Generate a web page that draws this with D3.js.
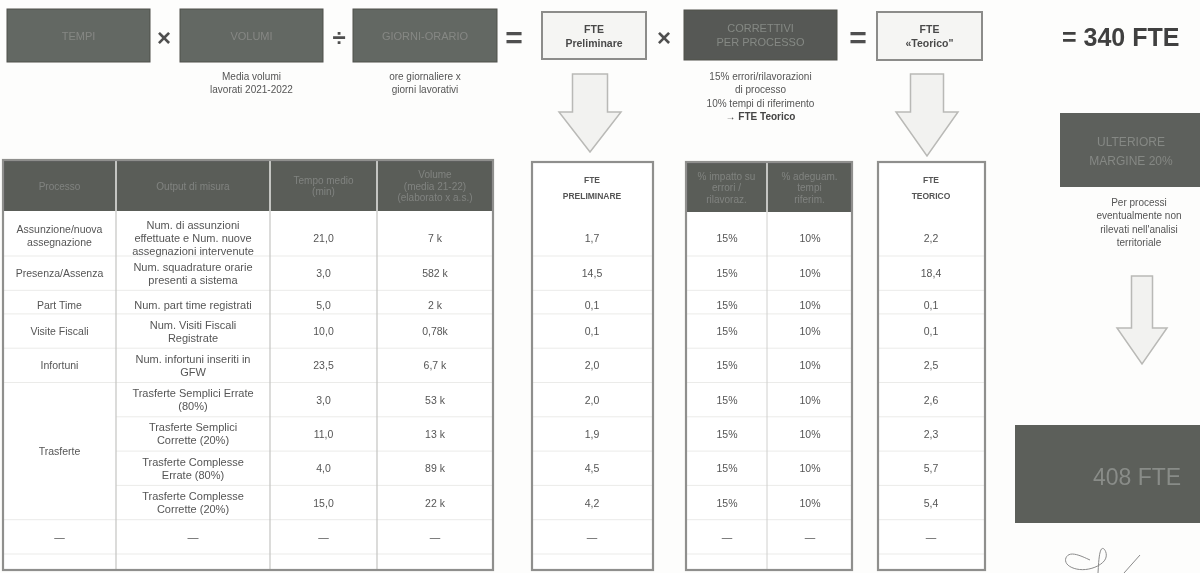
<!DOCTYPE html>
<html>
<head>
<meta charset="utf-8">
<script src="https://cdn.jsdelivr.net/npm/d3@7"></script>
<style>
body { margin: 0; background: #fff; }
svg { display: block; }
</style>
</head>
<body>
<svg id="chart" width="1200" height="573"></svg>
<script>
// ---- data ----
var formulaLabels = ["TEMPI", "VOLUMI", "GIORNI-ORARIO", "FTE\nPreliminare", "CORRETTIVI\nPER PROCESSO", "FTE\n«Teorico\""];
var formulaOps = ["×", "÷", "=", "×", "="];
var formulaNotes = ["", "Media volumi\nlavorati 2021-2022", "ore giornaliere x\ngiorni lavorativi", "", "15% errori/rilavorazioni\ndi processo\n10% tempi di riferimento\n→ FTE Teorico", ""];
var totaleFte = "= 340 FTE";
var margineLabel = "ULTERIORE\nMARGINE 20%";
var margineNote = "Per processi\neventualmente non\nrilevati nell'analisi\nterritoriale";
var totaleFinale = "408 FTE";

var headMain = ["Processo", "Output di misura", "Tempo medio\n(min)", "Volume\n(media 21-22)\n(elaborato x a.s.)"];
var headCorr = ["% impatto su\nerrori /\nrilavoraz.", "% adeguam.\ntempi\nriferim."];
var headPrelim = "FTE\nPRELIMINARE";
var headTeorico = "FTE\nTEORICO";

var processi = ["Assunzione/nuova\nassegnazione", "Presenza/Assenza", "Part Time", "Visite Fiscali", "Infortuni", "Trasferte", "—"];
var processiSpan = [1, 1, 1, 1, 1, 4, 1];
var outputMisura = [
    "Num. di assunzioni\neffettuate e Num. nuove\nassegnazioni intervenute",
    "Num. squadrature orarie\npresenti a sistema",
    "Num. part time registrati",
    "Num. Visiti Fiscali\nRegistrate",
    "Num. infortuni inseriti in\nGFW",
    "Trasferte Semplici Errate\n(80%)",
    "Trasferte Semplici\nCorrette (20%)",
    "Trasferte Complesse\nErrate (80%)",
    "Trasferte Complesse\nCorrette (20%)",
    "—"
];
var tempoMedio = ["21,0", "3,0", "5,0", "10,0", "23,5", "3,0", "11,0", "4,0", "15,0", "—"];
var volumi = ["7 k", "582 k", "2 k", "0,78k", "6,7 k", "53 k", "13 k", "89 k", "22 k", "—"];
var ftePreliminare = ["1,7", "14,5", "0,1", "0,1", "2,0", "2,0", "1,9", "4,5", "4,2", "—"];
var percErrori = ["15%", "15%", "15%", "15%", "15%", "15%", "15%", "15%", "15%", "—"];
var percTempi = ["10%", "10%", "10%", "10%", "10%", "10%", "10%", "10%", "10%", "—"];
var fteTeorico = ["2,2", "18,4", "0,1", "0,1", "2,5", "2,6", "2,3", "5,7", "5,4", "—"];

// ---- look ----
var DARK = "#646763", DARKER = "#565955", DTEXT = "#858884";
var INK = "#555555";
var ARIAL = "'Liberation Sans', Arial, sans-serif";
var NARROW = "'Liberation Sans', Arial, sans-serif";

var svg = d3.select("#chart");
svg.append("rect").attr("width", 1200).attr("height", 573).attr("fill", "#fdfdfc");

var defs = svg.append("defs");
defs.append("filter").attr("id", "scan")
    .append("feGaussianBlur").attr("stdDeviation", 0.5);

var g = svg.append("g").attr("filter", "url(#scan)");

// multi-line centered text helper
function mtext(sel, str, x, y, lh) {
    var lines = str.split("\n");
    var t = sel.append("text").attr("x", x).attr("y", y - (lines.length - 1) * lh / 2)
        .attr("text-anchor", "middle").attr("dominant-baseline", "central");
    lines.forEach(function(l, i) {
        t.append("tspan").attr("x", x).attr("dy", i === 0 ? 0 : lh).text(l);
    });
    return t;
}

// hollow block arrow pointing down
function arrow(cx, top, headY, tip, shaftW, headW) {
    var p = d3.path();
    p.moveTo(cx - shaftW / 2, top);
    p.lineTo(cx + shaftW / 2, top);
    p.lineTo(cx + shaftW / 2, headY);
    p.lineTo(cx + headW / 2, headY);
    p.lineTo(cx, tip);
    p.lineTo(cx - headW / 2, headY);
    p.lineTo(cx - shaftW / 2, headY);
    p.closePath();
    g.append("path").attr("d", p.toString())
        .attr("fill", "#f2f2f0").attr("stroke", "#b9b9b6").attr("stroke-width", 1.5);
}

// ---- formula row ----
var boxes = [
    {x: 7, y: 9, w: 143, h: 53, kind: "dark"},
    {x: 180, y: 9, w: 143, h: 53, kind: "dark"},
    {x: 353, y: 9, w: 144, h: 53, kind: "dark"},
    {x: 542, y: 12, w: 104, h: 47, kind: "light"},
    {x: 684, y: 10, w: 153, h: 50, kind: "darker"},
    {x: 877, y: 12, w: 105, h: 48, kind: "light"}
];
var opX = [164, 339, 514, 664, 858];

boxes.forEach(function(b, i) {
    var light = b.kind === "light";
    g.append("rect").attr("x", b.x).attr("y", b.y).attr("width", b.w).attr("height", b.h)
        .attr("fill", light ? "#f5f5f3" : (b.kind === "darker" ? DARKER : DARK))
        .attr("stroke", light ? "#8c8c8a" : "#4e514d").attr("stroke-width", light ? 2 : 1);
    mtext(g, formulaLabels[i], b.x + b.w / 2, b.y + b.h / 2, 14)
        .attr("font-family", ARIAL).attr("font-size", light ? 10.5 : 11)
        .attr("font-weight", light ? "bold" : "normal")
        .attr("fill", light ? "#4a4a4a" : DTEXT);
    if (formulaNotes[i]) {
        var n = formulaNotes[i].split("\n").length;
        mtext(g, formulaNotes[i], b.x + b.w / 2, 76 + (n - 1) * 13.3 / 2, 13.3)
            .attr("font-family", ARIAL).attr("font-size", 10).attr("fill", INK);
    }
});
// bold last line "→ FTE Teorico"
g.selectAll("tspan").filter(function() { return this.textContent === "→ FTE Teorico"; })
    .attr("font-weight", "bold").attr("fill", "#444");

formulaOps.forEach(function(op, i) {
    g.append("text").attr("x", opX[i]).attr("y", 37)
        .attr("text-anchor", "middle").attr("dominant-baseline", "central")
        .attr("font-family", ARIAL).attr("font-weight", "bold")
        .attr("font-size", op === "=" ? 30 : 24).attr("fill", "#4f4f4f").text(op);
});

g.append("text").attr("x", 1062).attr("y", 46).attr("font-family", ARIAL)
    .attr("font-weight", "bold").attr("font-size", 25).attr("fill", "#3f3f3f").text(totaleFte);

// arrows
arrow(590, 74, 112, 152, 35, 62);
arrow(927, 74, 112, 156, 33, 62);
arrow(1142, 276, 328, 364, 21, 50);

// ---- right column ----
g.append("rect").attr("x", 1060).attr("y", 113).attr("width", 150).attr("height", 74).attr("fill", "#5d605c");
mtext(g, margineLabel, 1131, 151, 19).attr("font-family", ARIAL).attr("font-size", 12).attr("fill", DTEXT);
mtext(g, margineNote, 1139, 222, 13.5).attr("font-family", ARIAL).attr("font-size", 10).attr("fill", INK);

g.append("rect").attr("x", 1015).attr("y", 425).attr("width", 195).attr("height", 98).attr("fill", "#5b5e5a");
g.append("text").attr("x", 1137).attr("y", 477).attr("text-anchor", "middle").attr("dominant-baseline", "central")
    .attr("font-family", ARIAL).attr("font-size", 23).attr("fill", "#898c88").text(totaleFinale);

// signature scribble
var sig = [[1090, 560], [1068, 550], [1062, 565], [1085, 573], [1112, 560], [1100, 540], [1098, 573]];
g.append("path").attr("d", d3.line().curve(d3.curveBasis)(sig))
    .attr("fill", "none").attr("stroke", "#8a8a8a").attr("stroke-width", 1);
g.append("path").attr("d", d3.line()([[1124, 573], [1140, 555]]))
    .attr("fill", "none").attr("stroke", "#8a8a8a").attr("stroke-width", 1);

// ---- tables ----
var headTop = 160, headBot = 211, rowsBot = 554, tableBot = 570;
var units = outputMisura.map(function(s) {
    return s === "—" ? 3.2 : s.split("\n").length + 1.2;
});
var cum = [0];
units.forEach(function(u, i) { cum.push(cum[i] + u); });
var y = d3.scaleLinear().domain([0, cum[cum.length - 1]]).range([headBot, rowsBot]);
var rowTop = function(i) { return y(cum[i]); };
var rowMid = function(i) { return (y(cum[i]) + y(cum[i + 1])) / 2; };

function rowLines(x0, x1, skip) {
    d3.range(1, outputMisura.length + 1).forEach(function(i) {
        if (skip && skip(i)) return;
        g.append("line").attr("x1", x0).attr("x2", x1).attr("y1", rowTop(i)).attr("y2", rowTop(i))
            .attr("stroke", "#ebebe9").attr("stroke-width", 1);
    });
}
function column(values, cx, size) {
    values.forEach(function(v, i) {
        mtext(g, v, cx, rowMid(i) + (i === 0 ? 4 : 0) + (i === 2 ? 3 : 0), 13)
            .attr("font-family", NARROW).attr("font-size", size || 10.5).attr("fill", INK);
    });
}
function frame(x0, x1, top) {
    g.append("rect").attr("x", x0).attr("y", top).attr("width", x1 - x0).attr("height", tableBot - top)
        .attr("fill", "none").attr("stroke", "#8f8f8d").attr("stroke-width", 2.2);
}
function darkHead(x0, x1, top, bot, cols, labels) {
    g.append("rect").attr("x", x0).attr("y", top).attr("width", x1 - x0).attr("height", bot - top)
        .attr("fill", "#5a5d59");
    cols.slice(1, -1).forEach(function(cx) {
        g.append("line").attr("x1", cx).attr("x2", cx).attr("y1", top).attr("y2", bot)
            .attr("stroke", "#e8e8e6").attr("stroke-width", 1.5);
    });
    labels.forEach(function(l, i) {
        mtext(g, l, (cols[i] + cols[i + 1]) / 2, (top + bot) / 2, 11.5)
            .attr("font-family", NARROW).attr("font-size", 10).attr("fill", "#80837f");
    });
}

// main table
var colsMain = [3, 116, 270, 377, 493];
g.append("rect").attr("x", 3).attr("y", headTop).attr("width", 490).attr("height", tableBot - headTop).attr("fill", "#fff");
var transStart = processiSpan.slice(0, 5).reduce(function(a, b) { return a + b; }, 0);
rowLines(colsMain[0], colsMain[1], function(i) { return i > transStart && i < transStart + 4; });
rowLines(colsMain[1], colsMain[4]);
colsMain.slice(1, -1).forEach(function(cx) {
    g.append("line").attr("x1", cx).attr("x2", cx).attr("y1", headBot).attr("y2", tableBot)
        .attr("stroke", "#c4c4c2").attr("stroke-width", 1.2);
});
darkHead(3, 493, headTop, headBot, colsMain, headMain);

var r = 0;
processi.forEach(function(p, i) {
    var mid = (rowTop(r) + rowTop(r + processiSpan[i])) / 2;
    mtext(g, p, (colsMain[0] + colsMain[1]) / 2, mid + (r === 0 ? 2 : 0) + (r === 2 ? 3 : 0), 13)
        .attr("font-family", NARROW).attr("font-size", 10.5).attr("fill", INK);
    r += processiSpan[i];
});
column(outputMisura, (colsMain[1] + colsMain[2]) / 2, 11);
column(tempoMedio, (colsMain[2] + colsMain[3]) / 2);
column(volumi, (colsMain[3] + colsMain[4]) / 2);
frame(3, 493, headTop);

// FTE preliminare
g.append("rect").attr("x", 532).attr("y", 162).attr("width", 121).attr("height", tableBot - 162).attr("fill", "#fff");
rowLines(532, 653);
mtext(g, headPrelim, 592, 188, 16).attr("font-family", NARROW).attr("font-size", 8.5).attr("font-weight", "bold").attr("fill", INK);
column(ftePreliminare, 592);
frame(532, 653, 162);

// correttivi
var colsCorr = [686, 767, 852];
g.append("rect").attr("x", 686).attr("y", 162).attr("width", 166).attr("height", tableBot - 162).attr("fill", "#fff");
rowLines(686, 852);
g.append("line").attr("x1", 767).attr("x2", 767).attr("y1", 212).attr("y2", tableBot)
    .attr("stroke", "#d0d0ce").attr("stroke-width", 1);
darkHead(686, 852, 162, 212, colsCorr, headCorr);
column(percErrori, 727);
column(percTempi, 810);
frame(686, 852, 162);

// FTE teorico
g.append("rect").attr("x", 878).attr("y", 162).attr("width", 107).attr("height", tableBot - 162).attr("fill", "#fff");
rowLines(878, 985);
mtext(g, headTeorico, 931, 188, 16).attr("font-family", NARROW).attr("font-size", 8.5).attr("font-weight", "bold").attr("fill", INK);
column(fteTeorico, 931);
frame(878, 985, 162);
</script>
</body>
</html>
